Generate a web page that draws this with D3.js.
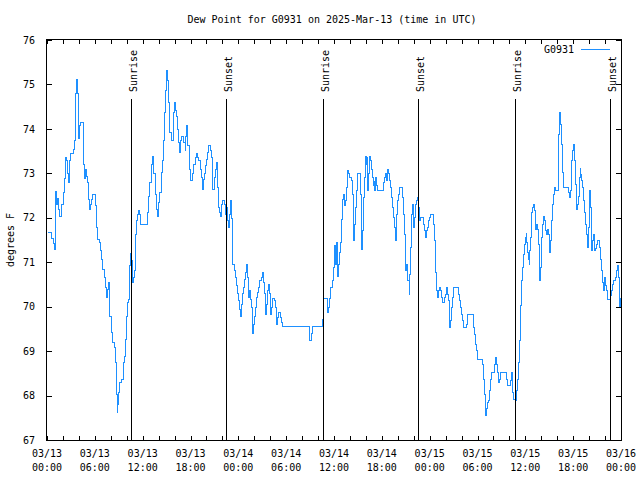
<!DOCTYPE html>
<html><head><meta charset="utf-8">
<script src="https://cdn.jsdelivr.net/npm/d3@7"></script>
<style>
body{margin:0;background:#fff;}
svg{display:block;}
text{font-family:"DejaVu Sans Mono",monospace;font-size:10px;fill:#000;}
</style></head><body>
<svg id="chart" width="640" height="480"></svg>
<script>
// hours since 2025-03-13 00:00 UTC
const hours = [0,0.55,0.7,0.92,1.04,1.13,1.21,1.34,1.46,1.8,1.97,2.09,2.3,2.38,2.55,2.63,2.72,2.88,3.3,3.39,3.47,3.55,3.68,3.76,3.85,3.93,4.01,4.18,4.47,4.56,4.64,4.77,4.89,5.02,5.1,5.23,5.39,5.56,5.64,5.98,6.1,6.31,6.48,6.65,6.77,6.9,7.19,7.32,7.44,7.53,7.69,7.74,7.82,7.99,8.11,8.4,8.53,8.65,8.74,8.78,8.9,9.07,9.24,9.49,9.57,9.66,9.78,9.91,9.99,10.16,10.24,10.33,10.45,10.54,10.62,10.66,10.83,10.91,11.0,11.08,11.2,11.33,11.45,11.58,11.71,12.5,12.63,12.75,13.0,13.21,13.33,13.5,13.67,13.8,13.92,14.09,14.26,14.42,14.51,14.63,14.76,14.88,14.97,15.05,15.18,15.34,15.51,15.76,15.89,16.01,16.14,16.26,16.39,16.56,16.64,16.77,17.1,17.26,17.35,17.48,17.6,17.77,17.89,
18.06,18.19,18.31,18.56,18.69,18.77,18.9,19.19,19.31,19.44,19.52,19.61,19.73,19.86,19.99,20.11,20.23,20.49,20.57,20.65,20.74,20.99,21.07,21.2,21.28,21.36,21.49,21.61,21.74,21.86,21.99,22.24,22.37,22.49,22.62,22.74,22.83,22.95,23.04,23.16,23.24,23.45,23.62,23.75,23.87,23.99,24.12,24.25,24.37,24.5,24.62,24.75,24.87,25.0,25.13,25.25,25.33,25.46,25.59,25.67,25.75,25.84,25.96,26.09,26.21,26.34,26.46,26.63,26.8,26.92,27.05,27.17,27.3,27.42,27.55,27.63,27.76,27.89,28.01,28.14,28.26,28.51,28.64,28.76,28.89,29.01,29.26,29.39,29.52,32.86,33.07,33.24,34.53,34.66,35.07,35.16,35.24,35.33,35.45,35.74,35.87,35.99,
36.12,36.2,36.33,36.41,36.5,36.62,36.75,36.83,36.92,37.04,37.17,37.29,37.37,37.5,37.58,37.67,37.79,37.91,38.08,38.25,38.38,38.42,38.5,38.59,38.71,38.84,38.92,39.26,39.34,39.42,39.51,39.59,39.67,39.8,39.92,40.01,40.09,40.18,40.26,40.34,40.43,40.51,40.59,40.72,40.84,40.97,41.05,41.18,41.3,41.43,42.1,42.22,42.35,42.48,42.6,42.73,42.86,42.98,43.11,43.23,43.36,43.48,43.6,43.73,43.81,43.94,44.02,44.15,44.57,44.69,44.77,44.86,44.94,45.03,45.11,45.19,45.4,45.44,45.53,45.61,45.69,45.78,45.86,45.95,46.03,46.15,46.24,46.36,46.45,46.53,46.66,46.79,47.16,47.28,47.41,47.53,47.66,47.78,47.91,48.04,48.41,48.54,48.62,48.75,48.87,49.04,49.21,49.33,49.41,49.54,49.79,49.96,50.08,50.21,50.29,50.38,50.46,50.54,50.67,50.84,50.96,51.59,51.71,51.8,51.92,52.09,52.22,52.55,52.64,52.72,53.39,53.51,53.64,53.76,53.89,
54.56,54.64,54.77,54.89,54.97,55.06,55.18,55.31,55.48,55.6,55.73,56.02,56.19,56.31,56.44,56.61,56.73,56.86,57.57,57.69,58.07,58.19,58.28,58.37,58.49,58.65,58.78,58.91,59.03,59.11,59.24,59.36,59.49,59.62,59.74,59.83,59.95,60.03,60.12,60.24,60.33,60.41,60.5,60.58,60.67,60.75,60.83,60.96,61.09,61.17,61.25,61.38,61.51,61.59,61.68,61.76,61.84,61.92,62.01,62.14,62.26,62.39,62.5,62.58,62.71,62.83,62.92,63.0,63.09,63.17,63.3,63.42,63.55,63.68,64.05,64.13,64.21,64.3,64.38,64.51,64.63,64.76,65.39,65.47,65.56,65.68,65.76,65.89,66.02,66.14,66.22,66.31,66.43,66.56,66.68,66.81,66.89,67.02,67.14,67.27,67.39,67.52,67.64,67.77,67.85,67.94,68.02,68.11,68.19,68.27,68.4,68.52,68.65,68.77,68.9,69.02,69.19,69.27,69.4,69.52,69.65,69.77,69.9,69.98,70.11,70.23,70.61,70.74,70.86,71.03,71.24,71.36,71.49,71.61,71.69,71.78,71.86,72.0];
const dewpoint = [71.68,71.55,71.43,71.3,72.6,72.3,72.45,72.2,72.05,72.3,72.58,72.9,73.37,73.3,73.0,72.8,73.3,73.46,73.55,73.74,74.15,74.8,75.13,74.8,74.15,73.8,74.08,74.15,73.8,73.2,72.9,73.1,72.95,72.8,72.43,72.2,72.3,72.43,72.54,72.28,71.8,71.53,71.45,71.27,71.08,70.85,70.67,70.44,70.22,70.4,70.55,70.3,69.8,69.43,69.2,69.1,68.76,68.04,67.63,67.8,68.08,68.3,68.38,68.57,68.76,68.9,69.27,69.8,70.1,70.18,70.4,70.93,71.2,71.04,70.74,70.55,70.67,70.82,71.12,71.64,71.94,72.09,72.17,72.09,71.87,72.13,72.5,72.8,73.22,73.38,73.0,72.54,72.2,72.05,72.35,72.58,73.03,73.29,73.74,74.38,74.87,75.2,75.33,75.1,74.6,73.93,73.74,74.38,74.6,74.42,74.3,74.0,73.7,73.48,73.74,73.85,73.7,73.52,73.85,74.08,73.63,73.1,72.84,
72.84,73.0,73.22,73.37,73.46,73.37,73.3,73.1,72.92,72.65,72.76,72.88,73.0,73.18,73.33,73.48,73.63,73.52,73.37,72.92,72.65,72.92,73.1,73.25,73.0,72.7,72.24,72.13,72.05,72.32,72.4,72.32,72.09,72.24,71.94,71.79,72.09,72.39,72.0,71.3,70.97,70.82,70.67,70.48,70.3,70.14,69.95,69.8,70.07,70.3,70.44,70.63,70.78,70.97,70.67,70.22,70.37,70.18,69.99,69.62,69.4,69.62,69.8,69.99,70.22,70.33,70.44,70.59,70.67,70.78,70.55,70.3,69.84,70.07,70.22,70.37,70.52,70.3,69.84,69.99,70.2,70.14,69.99,69.62,69.77,69.88,69.77,69.66,69.56,69.24,69.4,69.56,69.73,70.2,70.03,69.88,69.99,70.2,70.44,70.59,70.9,71.38,
70.97,71.45,70.97,70.7,70.97,71.23,71.45,71.64,71.98,72.43,72.54,72.28,72.39,72.7,72.95,73.07,73.0,72.92,72.84,72.54,71.87,71.49,71.87,72.24,72.62,72.88,73.0,72.54,72.02,71.3,71.72,72.17,72.47,72.92,73.4,73.22,73.4,72.62,73.0,73.29,73.4,73.29,73.1,72.92,72.73,72.84,72.62,72.92,72.73,72.62,72.8,72.92,73.0,72.84,73.1,73.0,72.84,72.7,72.47,72.24,72.02,71.79,71.49,71.72,72.09,72.39,72.54,72.7,72.47,72.09,71.64,71.04,70.82,70.97,70.74,70.59,70.29,70.74,71.34,71.79,72.09,72.32,71.94,71.79,72.02,72.32,72.39,72.5,72.39,72.24,71.94,72.02,71.87,71.72,71.57,71.72,71.79,71.94,72.02,72.09,71.87,71.49,70.78,70.37,70.22,70.37,70.44,70.37,70.22,70.1,70.22,70.29,70.44,70.29,70.14,69.73,69.54,69.69,69.99,70.22,70.44,70.29,70.14,69.99,69.84,69.69,69.54,69.62,69.77,69.84,69.54,69.39,69.17,69.02,68.83,
68.72,68.38,68.04,67.74,67.56,67.71,67.86,67.9,68.12,68.38,68.53,68.72,68.87,68.72,68.53,68.3,68.38,68.53,68.38,68.23,68.34,68.53,68.34,68.08,67.93,67.9,68.12,68.38,68.57,68.76,69.24,70.03,70.59,70.89,71.19,71.42,71.57,71.68,71.45,71.23,71.08,70.97,71.27,71.57,71.83,72.13,72.24,72.32,72.17,71.94,71.75,71.87,71.75,71.42,70.89,70.59,70.89,71.27,71.57,71.87,72.05,71.94,71.72,71.64,71.75,71.64,71.42,71.23,71.49,71.94,72.32,72.54,72.69,72.62,73.07,73.89,74.38,74.26,74.12,73.67,73.03,72.7,72.58,72.47,72.62,72.92,73.29,73.52,73.67,73.29,72.77,72.2,72.32,72.5,72.92,73.14,72.99,72.84,72.7,72.39,72.13,71.87,71.64,71.34,71.79,72.24,72.62,72.24,71.64,71.27,71.49,71.64,71.27,71.31,71.42,71.49,71.42,71.34,71.08,70.82,70.55,70.37,70.67,70.48,70.37,70.18,70.26,70.37,70.52,70.59,70.67,70.82,70.93,70.67,70.3,69.99,70.2,70.2];

const sunHours = [10.58, 22.45, 34.66, 46.57, 58.70, 70.66];
const sunLabels = ["Sunrise","Sunset","Sunrise","Sunset","Sunrise","Sunset"];
const xTickHours = [0,6,12,18,24,30,36,42,48,54,60,66,72];
const xTickDates = ["03/13","03/13","03/13","03/13","03/14","03/14","03/14","03/14","03/15","03/15","03/15","03/15","03/16"];
const xTickTimes = ["00:00","06:00","12:00","18:00","00:00","06:00","12:00","18:00","00:00","06:00","12:00","18:00","00:00"];
const yTicks = [67,68,69,70,71,72,73,74,75,76];
const seriesName = "G0931";
const titleText = "Dew Point for G0931 on 2025-Mar-13 (time in UTC)";
const yLabel = "degrees F";

const L = 47, R = 621, T = 40, B = 440;
const svg = d3.select("#chart");
const x = d3.scaleLinear().domain([0,72]).range([L,R]);
const y = d3.scaleLinear().domain([67,76]).range([B,T]);
const color = "#1e90ff";

// data line
const pts = hours.map((h,i)=>[h,dewpoint[i]]);
const line = d3.line().x(d=>Math.round(x(d[0]))+0.5).y(d=>Math.round(y(d[1]))+0.5).curve(d3.curveStepAfter);
svg.append("path").attr("d", line(pts)).attr("fill","none").attr("stroke",color)
  .attr("stroke-width",1).attr("shape-rendering","crispEdges");

// sunrise/sunset lines
sunHours.forEach((h,i)=>{
  const px = Math.round(x(h))+0.5;
  svg.append("line").attr("x1",px).attr("x2",px).attr("y1",99).attr("y2",B)
    .attr("stroke","#000").attr("shape-rendering","crispEdges");
  svg.append("text").attr("transform",`translate(${px+5},92) rotate(-90)`)
    .attr("text-anchor","start").text(sunLabels[i]);
});

// frame
svg.append("rect").attr("x",L-0.5).attr("y",T-0.5).attr("width",R-L+1).attr("height",B-T+1)
  .attr("fill","none").attr("stroke","#000").attr("shape-rendering","crispEdges");

// x ticks every 2 hours (bottom & top, inward)
const minor = d3.range(0,73,2);
const gx = svg.append("g").attr("transform",`translate(0,${B})`)
  .call(d3.axisBottom(x).tickValues(minor).tickSize(-4).tickSizeOuter(0).tickFormat(""));
const gxt = svg.append("g").attr("transform",`translate(0,${T})`)
  .call(d3.axisTop(x).tickValues(minor).tickSize(-4).tickSizeOuter(0).tickFormat(""));
[gx,gxt].forEach(g=>{g.select(".domain").remove(); g.selectAll("line").attr("shape-rendering","crispEdges");});

// x tick labels (two lines)
const lab = svg.append("g");
xTickHours.forEach((h,i)=>{
  const t = lab.append("text").attr("x",x(h)).attr("text-anchor","middle");
  t.append("tspan").attr("x",x(h)).attr("y",457).text(xTickDates[i]);
  t.append("tspan").attr("x",x(h)).attr("y",471).text(xTickTimes[i]);
});

// y ticks left & right
const gy = svg.append("g").attr("transform",`translate(${L},0)`)
  .call(d3.axisLeft(y).tickValues(yTicks).tickSize(-5).tickSizeOuter(0).tickPadding(12).tickFormat(d3.format("d")));
gy.select(".domain").remove();
gy.selectAll("line").attr("shape-rendering","crispEdges");
gy.selectAll("text").attr("font-family","DejaVu Sans Mono").attr("font-size",10).attr("fill","#000");
const gyr = svg.append("g").attr("transform",`translate(${R},0)`)
  .call(d3.axisRight(y).tickValues(yTicks).tickSize(-5).tickSizeOuter(0).tickFormat(""));
gyr.select(".domain").remove();
gyr.selectAll("line").attr("shape-rendering","crispEdges");

// title
svg.append("text").attr("x",332).attr("y",23).attr("text-anchor","middle").text(titleText);
// y label
svg.append("text").attr("transform","translate(14,240) rotate(-90)").attr("text-anchor","middle").text(yLabel);

// legend
svg.append("text").attr("x",574).attr("y",53).attr("text-anchor","end").text(seriesName);
svg.append("line").attr("x1",581).attr("x2",610).attr("y1",49.5).attr("y2",49.5)
  .attr("stroke",color).attr("shape-rendering","crispEdges");
</script>
</body></html>
